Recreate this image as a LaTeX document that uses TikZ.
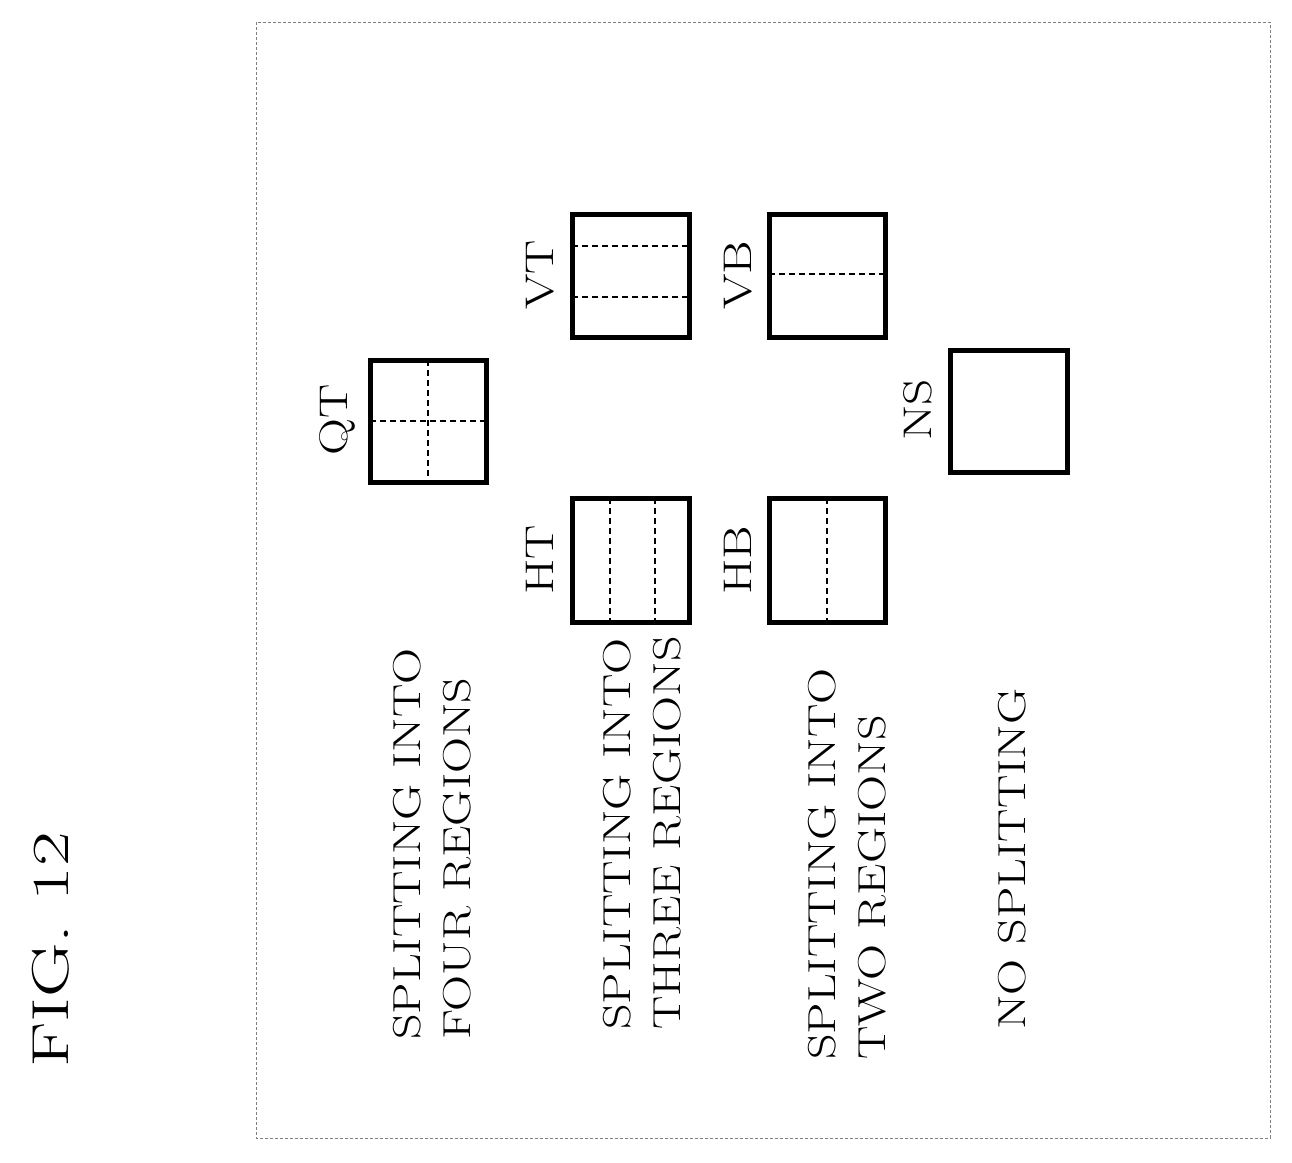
\documentclass[tikz,border=0pt]{standalone}
\newcommand{\wide}[1]{\scalebox{1.28}[1]{#1}}
\begin{document}
\begin{tikzpicture}[x=1pt,y=-1pt,
  blk/.style={line width=5pt},
  sp/.style={dashed,line width=1.5pt,dash pattern=on 6pt off 4pt},
  lab/.style={rotate=90,font=\fontsize{40}{48}\selectfont,inner sep=0pt},
  txt/.style={rotate=90,anchor=base west,font=\fontsize{39}{47}\selectfont,inner sep=0pt}]
\useasboundingbox (0,0) rectangle (1292,1162);
\draw[densely dashed,gray,line width=0.6pt] (256,22) rectangle (1270,1138);
\node[rotate=90,anchor=base,font=\fontsize{52}{60}\selectfont,inner sep=0pt] (fig) at (68,950) {\scalebox{1.45}[1]{FIG. 12}};
% boxes
\draw[blk] (370,360) rectangle (486,482);
\draw[sp] (428,360) -- (428,482) (370,421) -- (486,421);
\draw[blk] (572,214) rectangle (689,337);
\draw[sp] (572,246) -- (689,246) (572,297) -- (689,297);
\draw[blk] (769,214) rectangle (885,337);
\draw[sp] (769,274) -- (885,274);
\draw[blk] (572,498) rectangle (689,622);
\draw[sp] (610,498) -- (610,622) (655,498) -- (655,622);
\draw[blk] (769,498) rectangle (885,622);
\draw[sp] (827,498) -- (827,622);
\draw[blk] (950,350) rectangle (1067,472);
% labels
\node[lab] (qt) at (337,420) {\wide{QT}};
\node[lab] (vt) at (540,275) {\wide{VT}};
\node[lab] (vb) at (738,275) {\wide{VB}};
\node[lab] (ht) at (540,560) {\wide{HT}};
\node[lab] (hb) at (738,560) {\wide{HB}};
\node[lab] (ns) at (918,410) {\wide{NS}};
% texts
\node[txt] (t1a) at (420,1040) {\wide{SPLITTING INTO}};
\node[txt] (t1b) at (470,1040) {\wide{FOUR REGIONS}};
\node[txt] (t2a) at (630,1030) {\wide{SPLITTING INTO}};
\node[txt] (t2b) at (680,1030) {\wide{THREE REGIONS}};
\node[txt] (t3a) at (835,1060) {\wide{SPLITTING INTO}};
\node[txt] (t3b) at (885,1060) {\wide{TWO REGIONS}};
\node[txt] (t4) at (1025,1030) {\wide{NO SPLITTING}};
\end{tikzpicture}
\end{document}
